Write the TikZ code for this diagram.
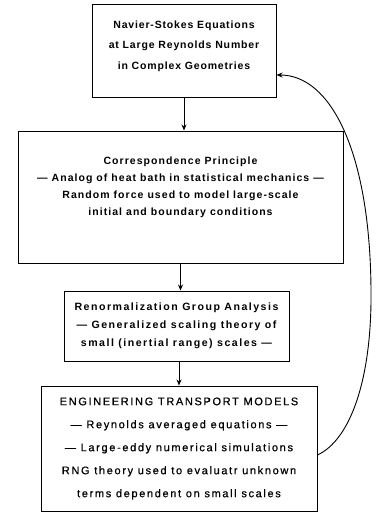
\documentclass[tikz,border=0pt]{standalone}
\usepackage{fontspec}
\setmainfont{Liberation Sans}
\usetikzlibrary{arrows.meta}

\begin{document}
\begin{tikzpicture}[
		x=1pt, y=-1pt,
		box/.style = {draw, line width=1pt, align=center, inner sep=0pt},
		headfont/.style = {font=\fontsize{10.5}{20.5}\selectfont\bfseries\addfontfeature{LetterSpace=8}},
		bodyfont/.style = {font=\fontsize{10.5}{17}\selectfont\bfseries\addfontfeature{LetterSpace=10}},
		rngfont/.style = {font=\fontsize{10.6}{18}\selectfont\bfseries\addfontfeature{LetterSpace=14}},
		engfont/.style = {font=\fontsize{11}{23}\selectfont\addfontfeature{LetterSpace=15, FakeBold=0.6}},
		arr/.style = {-{Stealth[length=6pt, width=5pt]}, line width=0.9pt}
	]
	\useasboundingbox (0,0) rectangle (377,514);
	% Top level.
	\node[box, headfont, minimum width=184pt, minimum height=93pt] (ns) at (184,50.5)
		{Navier-Stokes Equations\\at Large Reynolds Number\\in Complex Geometries\rule[-11pt]{0pt}{11pt}};
	% Level 1.
	\node[box, bodyfont, minimum width=325pt, minimum height=132pt] (corr) at (180.5,197)
		{Correspondence Principle\\--- Analog of heat bath in statistical mechanics ---\\Random force used to model large-scale\\initial and boundary conditions\rule[-22pt]{0pt}{22pt}};
	% Level 2.
	\node[box, rngfont, minimum width=225pt, minimum height=70pt] (rng) at (176.5,326)
		{Renormalization Group Analysis\\--- Generalized scaling theory of\\small (inertial range) scales ---\rule[-3pt]{0pt}{3pt}};
	% Level 3.
	\node[box, engfont, minimum width=276pt, minimum height=125pt] (eng) at (179,448.5)
		{ENGINEERING TRANSPORT MODELS\\--- Reynolds averaged equations ---\\--- Large-eddy numerical simulations\\RNG theory used to evaluatr unknown\\terms dependent on small scales};

	\draw[arr] (ns.south) to (ns.south |- corr.north);
	\draw[arr] (corr.south) to (corr.south |- rng.north);
	\draw[arr] (eng.north |- rng.south) to (eng.north);
	\coordinate (back) at (eng.east |- 0,455);
	\draw[arr] (back) .. controls (350,440) and (372,380) .. (371,290)
		.. controls (370,150) and (330,75) .. (ns.east |- 0,75);
\end{tikzpicture}
\end{document}
